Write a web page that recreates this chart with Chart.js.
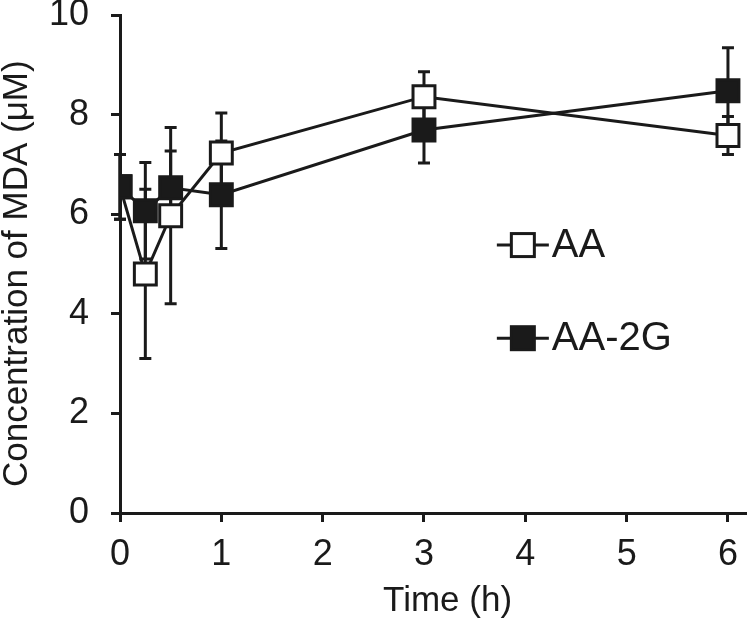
<!DOCTYPE html>
<html>
<head>
<meta charset="utf-8">
<script src="https://cdn.jsdelivr.net/npm/chart.js@4"></script>
<style>
  html, body { margin: 0; padding: 0; background: #fff; }
  #wrap { width: 750px; height: 622px; position: relative; }
</style>
</head>
<body>
<div id="wrap"><canvas id="c" width="750" height="622"></canvas></div>
<script>
// ---- data ----
const times = [0, 0.25, 0.5, 1, 3, 6];
const aaMean = [6.55, 4.80, 5.97, 7.23, 8.36, 7.58];
const aaSD = [0.65, 1.70, 1.77, 0.80, 0.50, 0.38];
const aa2gMean = [6.55, 6.07, 6.53, 6.39, 7.69, 8.48];
const aa2gSD = [0.65, 0.97, 0.74, 1.08, 0.66, 0.86];
const xTicks = [0, 1, 2, 3, 4, 5, 6];
const yTicks = [0, 2, 4, 6, 8, 10];
const seriesNames = ['AA', 'AA-2G'];
const xTitle = 'Time (h)';
const yTitle = 'Concentration of MDA (\u03bcM)';

const INK = '#1a1a1a';
const FONT = '"Liberation Sans", Arial, sans-serif';

function pts(means) { return times.map((t, i) => ({ x: t, y: means[i] })); }

const errorBars = {
  id: 'errorBars',
  beforeDatasetsDraw(chart) {
    const ctx = chart.ctx, xs = chart.scales.x, ys = chart.scales.y;
    ctx.save();
    ctx.strokeStyle = INK;
    ctx.lineWidth = 3;
    chart.data.datasets.forEach(ds => {
      ds.data.forEach((p, i) => {
        const sd = ds.sd[i];
        const px = xs.getPixelForValue(p.x);
        const yt = ys.getPixelForValue(p.y + sd);
        const yb = ys.getPixelForValue(p.y - sd);
        const cw = 6;
        ctx.beginPath();
        ctx.moveTo(px, yt); ctx.lineTo(px, yb);
        ctx.moveTo(px - cw, yt); ctx.lineTo(px + cw, yt);
        ctx.moveTo(px - cw, yb); ctx.lineTo(px + cw, yb);
        ctx.stroke();
      });
    });
    ctx.restore();
  }
};

const innerLegend = {
  id: 'innerLegend',
  afterDraw(chart) {
    const ctx = chart.ctx, a = chart.chartArea;
    const w = a.right - a.left, h = a.bottom - a.top;
    const x0 = a.left + 0.602 * w;
    const lineLen = 52;
    const rows = [a.top + 0.462 * h, a.top + 0.649 * h];
    const order = [0, 1];
    ctx.save();
    order.forEach((k, r) => {
      const ds = chart.data.datasets.find(d => d.label === seriesNames[k]);
      const y = rows[r];
      ctx.strokeStyle = INK;
      ctx.lineWidth = 3;
      ctx.beginPath();
      ctx.moveTo(x0, y); ctx.lineTo(x0 + lineLen, y);
      ctx.stroke();
      const s = 23;
      ctx.fillStyle = ds.pointBackgroundColor;
      ctx.fillRect(x0 + lineLen / 2 - s / 2, y - s / 2, s, s);
      ctx.strokeRect(x0 + lineLen / 2 - s / 2, y - s / 2, s, s);
      ctx.fillStyle = INK;
      ctx.font = '40px ' + FONT;
      ctx.textBaseline = 'middle';
      ctx.textAlign = 'left';
      ctx.fillText(ds.label, x0 + lineLen + 3, y + 1);
    });
    ctx.restore();
  }
};

new Chart(document.getElementById('c'), {
  type: 'line',
  data: {
    datasets: [
      {
        label: seriesNames[1], data: pts(aa2gMean), sd: aa2gSD,
        borderColor: INK, borderWidth: 3, tension: 0,
        pointStyle: 'rect', pointRadius: 15.5, pointHoverRadius: 15.5,
        pointBorderWidth: 3, pointBorderColor: INK, pointBackgroundColor: INK
      },
      {
        label: seriesNames[0], data: pts(aaMean), sd: aaSD,
        borderColor: INK, borderWidth: 3, tension: 0,
        pointStyle: 'rect', pointRadius: 15.5, pointHoverRadius: 15.5,
        pointBorderWidth: 3, pointBorderColor: INK, pointBackgroundColor: '#ffffff'
      }
    ]
  },
  options: {
    responsive: false,
    animation: false,
    events: [],
    layout: { autoPadding: false, padding: { left: 0, right: 4, top: 15, bottom: 0 } },
    plugins: { legend: { display: false }, tooltip: { enabled: false } },
    scales: {
      x: {
        type: 'linear', min: 0, max: 6.178,
        afterFit(s) { s.height = 109; s.paddingLeft = 0; s.paddingRight = 0; },
        afterBuildTicks(s) { s.ticks = xTicks.map(v => ({ value: v })); },
        ticks: { color: INK, font: { family: FONT, size: 36 }, padding: 11, maxRotation: 0 },
        grid: { drawOnChartArea: false, drawTicks: true, tickLength: 9, tickWidth: 3, tickColor: INK },
        border: { display: true, color: INK, width: 3 },
        title: { display: true, text: '   ' + xTitle, color: INK, font: { family: FONT, size: 35 }, padding: { top: 0, bottom: 0 } }
      },
      y: {
        type: 'linear', min: 0, max: 10,
        afterFit(s) { s.width = 120; s.paddingTop = 0; s.paddingBottom = 0; },
        afterBuildTicks(s) { s.ticks = yTicks.map(v => ({ value: v })); },
        ticks: { color: INK, font: { family: FONT, size: 36 }, padding: 22 },
        grid: { drawOnChartArea: false, drawTicks: true, tickLength: 9, tickWidth: 3, tickColor: INK },
        border: { display: true, color: INK, width: 3 },
        title: { display: true, text: yTitle + '  ', color: INK, font: { family: FONT, size: 35, lineHeight: 1 }, padding: { top: 0, bottom: 0 } }
      }
    }
  },
  plugins: [errorBars, innerLegend]
});
</script>
</body>
</html>
